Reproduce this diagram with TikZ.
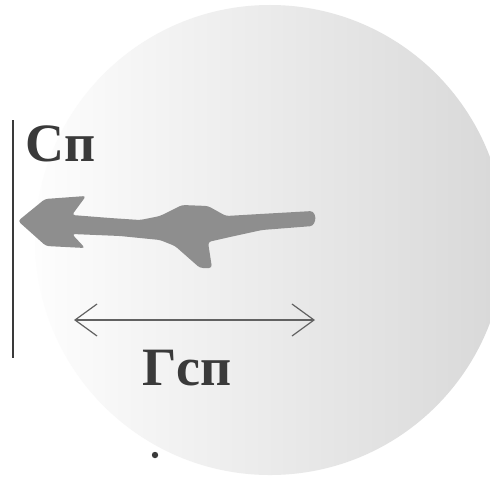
\documentclass[tikz,border=0pt]{standalone}
\usepackage{fontspec}
\setmainfont{Liberation Serif}
\usetikzlibrary{arrows.meta}

\begin{document}
\begin{tikzpicture}[x=0.5pt,y=-0.5pt]
\definecolor{fieldLight}{HTML}{FDFDFD}
\definecolor{fieldMid}{HTML}{EBEBEB}
\definecolor{fieldDark}{HTML}{D8D8D8}
\definecolor{flowGrey}{HTML}{8E8E8E}
\definecolor{inkGrey}{HTML}{3A3A3A}
\tikzset{
  label/.style={text=inkGrey,font=\fontsize{27}{29}\selectfont\bfseries,inner sep=0pt},
  span/.style={draw=inkGrey!80,line width=0.6pt,{Straight Barb[length=11pt,width=16pt]}-{Straight Barb[length=11pt,width=16pt]}}
}
\useasboundingbox (0,0) rectangle (490,476);
\fill[white] (0,0) rectangle (490,476);
\begin{scope}
\clip (0,0) rectangle (490,476);
\shade[left color=fieldLight,middle color=fieldMid,right color=fieldDark] (270,240) circle [radius=117.5pt];
\end{scope}
\draw[inkGrey,line width=0.6pt] (13,120) -- (13,358);
\fill[flowGrey,rounded corners=1.5pt] (18,221) -- (45,199) -- (86,196) -- (72,215)
  -- (110,218) -- (140,220) -- (160,216) -- (182,205) -- (208,206) -- (226,216)
  -- (260,214) -- (313,211) -- (316,218) -- (313,226) -- (262,230)
  -- (230,237) -- (208,242) -- (212,268) -- (200,268) -- (175,246)
  -- (160,240) -- (120,236) -- (72,234) -- (85,248) -- (46,246) -- cycle;
\node[label] (sp) at (61,144) {Сп};
\coordinate (gl) at (74,320);
\coordinate (gr) at (315,320);
\draw[span] (gl) -- (gr);
\node[label] (gsp) at (187,368) {Гсп};
\fill[inkGrey] (155,455) circle (1.6pt);
\end{tikzpicture}
\end{document}
